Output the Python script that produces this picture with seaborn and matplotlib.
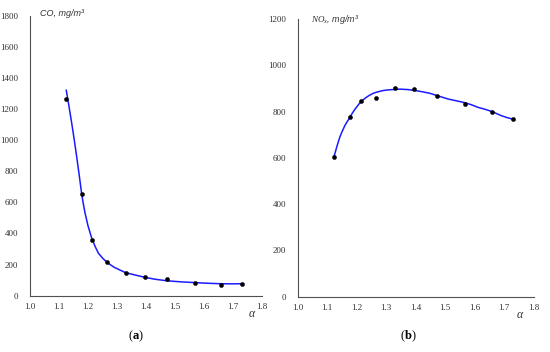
import matplotlib
matplotlib.use("Agg")
import matplotlib.pyplot as plt
import seaborn as sns
import pandas as pd

# ---- data ----
co_alpha = [1.125, 1.179, 1.214, 1.267, 1.331, 1.395, 1.471, 1.570, 1.659, 1.731]
co_value = [1264, 656, 360, 219, 148, 118, 107, 84, 69, 73]
co_fit_alpha = [1.125, 1.135, 1.144, 1.153, 1.161, 1.170, 1.178, 1.184, 1.190, 1.200,
                1.213, 1.225, 1.236, 1.250, 1.267, 1.290, 1.310, 1.330,
                1.362, 1.397, 1.430, 1.471, 1.520, 1.569, 1.610, 1.655, 1.700, 1.730]
co_fit_value = [1322, 1212, 1108, 998, 894, 772, 658, 590, 530, 450,
                369, 315, 273, 242, 212, 183, 165, 148,
                133, 118, 106, 96, 89, 84, 80, 77, 76, 77]

nox_alpha = [1.124, 1.177, 1.213, 1.264, 1.330, 1.395, 1.471, 1.568, 1.659, 1.730]
nox_value = [605, 775, 847, 859, 900, 897, 867, 834, 800, 767]
nox_fit_alpha = [1.123, 1.133, 1.143, 1.150, 1.160, 1.168, 1.177, 1.185, 1.194, 1.200,
                 1.211, 1.222, 1.233, 1.244, 1.256, 1.268, 1.280, 1.290, 1.302, 1.320,
                 1.347, 1.375, 1.403, 1.425, 1.448, 1.480, 1.511, 1.540, 1.568, 1.590,
                 1.612, 1.635, 1.659, 1.691, 1.710, 1.730]
nox_fit_value = [605, 650, 691, 712, 740, 757, 775, 793, 810, 820,
                 838, 851, 862, 871, 879, 884, 888, 891, 893, 895,
                 897, 895, 890, 885, 879, 866, 854, 846, 838, 829,
                 818, 810, 800, 782, 774, 767]

x_ticks = [1.0, 1.1, 1.2, 1.3, 1.4, 1.5, 1.6, 1.7, 1.8]
co_ticks = [0, 200, 400, 600, 800, 1000, 1200, 1400, 1600, 1800]
nox_ticks = [0, 200, 400, 600, 800, 1000, 1200]

sns.set_theme(style="white")
plt.rcParams['font.family'] = ['Liberation Serif', 'DejaVu Serif']
plt.rcParams['mathtext.fontset'] = 'custom'
plt.rcParams['mathtext.it'] = 'Liberation Serif:italic'
plt.rcParams['mathtext.rm'] = 'Liberation Serif'
plt.rcParams['mathtext.bf'] = 'Liberation Serif:bold'
plt.rcParams['lines.solid_joinstyle'] = 'round'

fig = plt.figure(figsize=(5.5, 3.52), dpi=100)
axL = fig.add_axes([0.0545, 0.160, 0.4218, 0.7955])
axR = fig.add_axes([0.5413, 0.157, 0.4290, 0.7890])

spine_c = '#505050'

def style(ax, yticks):
    for s in ['top', 'right']:
        ax.spines[s].set_visible(False)
    for s in ['left', 'bottom']:
        ax.spines[s].set_color(spine_c)
        ax.spines[s].set_linewidth(0.8)
    ax.set_xlim(1.0, 1.8)
    ax.set_ylim(yticks[0], yticks[-1])
    ax.set_xticks(x_ticks)
    ax.set_xticklabels([f"{t:.1f}" for t in x_ticks])
    ax.set_yticks(yticks)
    ax.set_yticklabels([str(t) for t in yticks])
    ax.tick_params(axis='x', direction='in', length=2.5, width=0.7, color=spine_c,
                   labelsize=6.5, pad=5, labelcolor='#333333')
    ax.tick_params(axis='y', direction='out', length=2.5, width=0.7, color=spine_c,
                   labelsize=6.5, pad=6, labelcolor='#333333')
    ax.set_xlabel('')
    ax.set_ylabel('')
    ax.grid(False)

# left panel
df_co_fit = pd.DataFrame({'alpha': co_fit_alpha, 'value': co_fit_value})
df_co = pd.DataFrame({'alpha': co_alpha, 'value': co_value})
sns.lineplot(data=df_co_fit, x='alpha', y='value', ax=axL, color='#1a1aff',
             linewidth=1.1, sort=False, estimator=None)
sns.scatterplot(data=df_co, x='alpha', y='value', ax=axL, color='black',
                s=9, edgecolor='black', linewidth=0.3, zorder=3)
style(axL, co_ticks)

# right panel
df_nox_fit = pd.DataFrame({'alpha': nox_fit_alpha, 'value': nox_fit_value})
df_nox = pd.DataFrame({'alpha': nox_alpha, 'value': nox_value})
sns.lineplot(data=df_nox_fit, x='alpha', y='value', ax=axR, color='#1a1aff',
             linewidth=1.1, sort=False, estimator=None)
sns.scatterplot(data=df_nox, x='alpha', y='value', ax=axR, color='black',
                s=9, edgecolor='black', linewidth=0.3, zorder=3)
style(axR, nox_ticks)

# labels
fig.text(40 / 550, 1 - 13 / 352, "CO, mg/m³", fontsize=6.5, style='italic',
         family=['Liberation Sans', 'DejaVu Sans'], color='#333333', va='center', ha='left')
fig.text(311 / 550, 1 - 20 / 352, r"$NO_x$, mg/m³", fontsize=6.5, style='italic',
         family=['Liberation Sans', 'DejaVu Sans'], color='#333333', va='center', ha='left')

fig.text(252 / 550, 1 - 314 / 352, "α", fontsize=8.5, style='italic',
         color='#333333', va='center', ha='center')
fig.text(520 / 550, 1 - 315 / 352, "α", fontsize=8.5, style='italic',
         color='#333333', va='center', ha='center')

fig.text(136 / 550, 1 - 336 / 352, r"($\mathbf{a}$)", fontsize=9, color='black',
         va='center', ha='center')
fig.text(408 / 550, 1 - 336 / 352, r"($\mathbf{b}$)", fontsize=9, color='black',
         va='center', ha='center')

fig.savefig("out.png", dpi=100)
